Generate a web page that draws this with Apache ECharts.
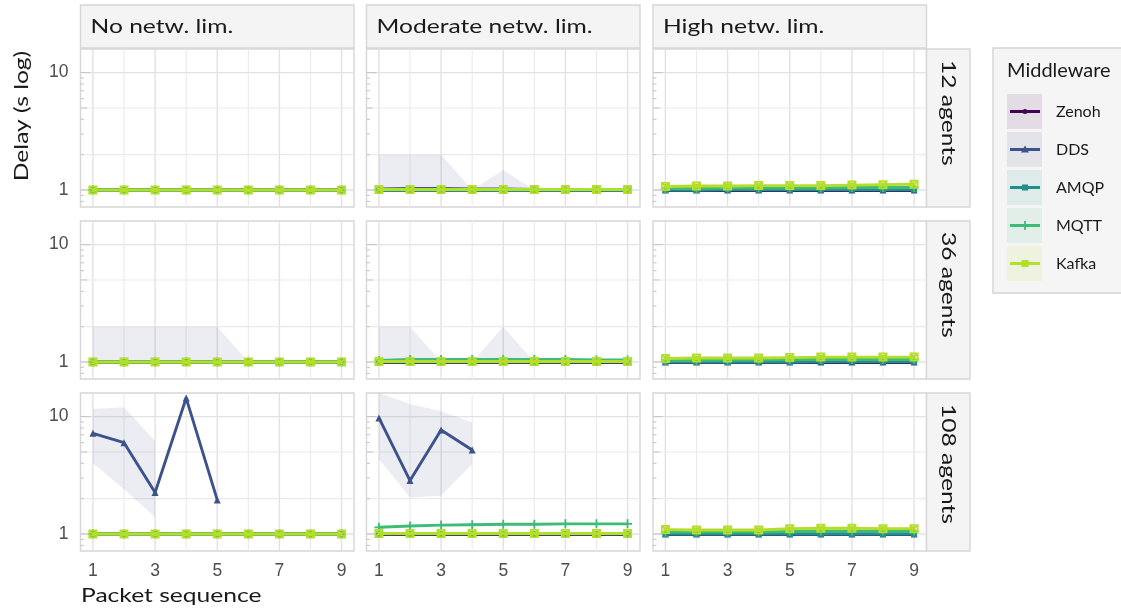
<!DOCTYPE html>
<html>
<head>
<meta charset="utf-8">
<script src="https://cdn.jsdelivr.net/npm/echarts@6/dist/echarts.min.js"></script>
<style>
  html, body { margin: 0; padding: 0; background: #ffffff; }
  #chart { width: 1121px; height: 612px; }
</style>
</head>
<body>
<div id="chart"></div>
<script>
// ---- data ---------------------------------------------------------------
const packets = [1, 2, 3, 4, 5, 6, 7, 8, 9];
const netLimits = ['No netw. lim.', 'Moderate netw. lim.', 'High netw. lim.'];
const agentRows = ['12 agents', '36 agents', '108 agents'];
const middlewares = ['Zenoh', 'DDS', 'AMQP', 'MQTT', 'Kafka'];
const xTickLabels = [1, 3, 5, 7, 9];
const yGridValues = [1, 2, 5, 10];
const logTickValues = [0.8, 0.9, 1, 2, 3, 4, 5, 6, 7, 8, 9, 10];

// mean delay (s) per packet; rows = no / moderate / high network limitation
const zenoh12 = [
  [1.00, 1.00, 1.00, 1.00, 1.00, 1.00, 1.00, 1.00, 1.00],
  [0.99, 0.99, 0.99, 0.99, 0.99, 0.99, 0.99, 0.99, 0.99],
  [0.99, 0.99, 0.99, 0.99, 0.99, 0.99, 0.99, 0.99, 0.99]
];
const dds12 = [
  [1.00, 1.00, 1.00, 1.00, 1.00, 1.00, 1.00, 1.00, 1.00],
  [1.02, 1.03, 1.03, 1.02, 1.02, 1.01, 1.01, 1.01, 1.01],
  [1.00, 1.00, 1.00, 1.00, 1.00, 1.00, 1.00, 1.00, 1.00]
];
const amqp12 = [
  [1.00, 1.00, 1.00, 1.00, 1.00, 1.00, 1.00, 1.00, 1.00],
  [0.99, 0.99, 0.99, 0.99, 0.99, 0.99, 0.99, 0.99, 0.99],
  [1.00, 1.00, 1.01, 1.01, 1.01, 1.01, 1.01, 1.01, 1.01]
];
const mqtt12 = [
  [1.00, 1.00, 1.00, 1.00, 1.00, 1.00, 1.00, 1.00, 1.00],
  [1.01, 1.01, 1.01, 1.01, 1.01, 1.01, 1.01, 1.01, 1.01],
  [1.03, 1.03, 1.04, 1.04, 1.04, 1.04, 1.05, 1.05, 1.05]
];
const kafka12 = [
  [1.00, 1.00, 1.00, 1.00, 1.00, 1.00, 1.00, 1.00, 1.00],
  [1.01, 1.01, 1.01, 1.01, 1.01, 1.01, 1.01, 1.01, 1.01],
  [1.07, 1.08, 1.08, 1.09, 1.09, 1.09, 1.10, 1.11, 1.12]
];

const zenoh36 = [
  [1.00, 1.00, 1.00, 1.00, 1.00, 1.00, 1.00, 1.00, 1.00],
  [0.99, 0.99, 0.99, 0.99, 0.99, 0.99, 0.99, 0.99, 0.99],
  [0.99, 0.99, 0.99, 0.99, 0.99, 0.99, 0.99, 0.99, 0.99]
];
const dds36 = [
  [1.00, 1.00, 1.00, 1.00, 1.00, 1.00, 1.00, 1.00, 1.00],
  [1.01, 1.01, 1.01, 1.01, 1.01, 1.01, 1.01, 1.01, 1.01],
  [1.00, 1.00, 1.00, 1.00, 1.00, 1.00, 1.00, 1.00, 1.00]
];
const amqp36 = [
  [1.00, 1.00, 1.00, 1.00, 1.00, 1.00, 1.00, 1.00, 1.00],
  [1.00, 1.00, 1.00, 1.00, 1.00, 1.00, 1.00, 1.00, 1.00],
  [1.00, 1.00, 1.00, 1.00, 1.00, 1.01, 1.01, 1.01, 1.01]
];
const mqtt36 = [
  [1.00, 1.00, 1.00, 1.00, 1.00, 1.00, 1.00, 1.00, 1.00],
  [1.03, 1.05, 1.05, 1.05, 1.05, 1.05, 1.05, 1.04, 1.04],
  [1.03, 1.03, 1.04, 1.04, 1.05, 1.05, 1.05, 1.05, 1.05]
];
const kafka36 = [
  [1.00, 1.00, 1.00, 1.00, 1.00, 1.00, 1.00, 1.00, 1.00],
  [1.01, 1.01, 1.01, 1.01, 1.01, 1.01, 1.01, 1.01, 1.01],
  [1.07, 1.08, 1.08, 1.08, 1.09, 1.10, 1.10, 1.10, 1.10]
];

const zenoh108 = [
  [1.00, 1.00, 1.00, 1.00, 1.00, 1.00, 1.00, 1.00, 1.00],
  [0.99, 0.99, 0.99, 0.99, 0.99, 0.99, 0.99, 0.99, 0.99],
  [0.99, 0.99, 0.99, 0.99, 0.99, 0.99, 0.99, 0.99, 0.99]
];
const dds108 = [
  [7.2, 6.0, 2.26, 14.4, 1.95, null, null, null, null],
  [9.75, 2.85, 7.7, 5.2, null, null, null, null, null],
  [1.00, 1.00, 1.00, 1.00, 1.00, 1.00, 1.00, 1.00, 1.00]
];
const amqp108 = [
  [1.00, 1.00, 1.00, 1.00, 1.00, 1.00, 1.00, 1.00, 1.00],
  [1.00, 1.00, 1.00, 1.00, 1.00, 1.00, 1.00, 1.00, 1.00],
  [1.00, 1.00, 1.00, 1.00, 1.00, 1.00, 1.00, 1.00, 1.00]
];
const mqtt108 = [
  [1.00, 1.00, 1.00, 1.00, 1.00, 1.00, 1.00, 1.00, 1.00],
  [1.14, 1.17, 1.19, 1.20, 1.21, 1.21, 1.22, 1.22, 1.22],
  [1.04, 1.04, 1.04, 1.04, 1.05, 1.06, 1.06, 1.06, 1.06]
];
const kafka108 = [
  [1.00, 1.00, 1.00, 1.00, 1.00, 1.00, 1.00, 1.00, 1.00],
  [1.01, 1.01, 1.01, 1.01, 1.01, 1.01, 1.01, 1.01, 1.01],
  [1.09, 1.08, 1.08, 1.08, 1.11, 1.12, 1.12, 1.11, 1.11]
];

// DDS delay spread (lower / upper bound); null where there is no spread
const ddsLow12 = [null, [1, 1, 1, 1, 1, 1, 1, 1, 1], null];
const ddsHigh12 = [null, [2, 2, 2, 1, 1.48, 1, 1, 1, 1], null];
const ddsLow36 = [[1, 1, 1, 1, 1, 1, 1, 1, 1], [1, 1, 1, 1, 1, 1, 1, 1, 1], null];
const ddsHigh36 = [[2, 2, 2, 2, 2, 1, 1, 1, 1], [2, 2, 1, 1, 2, 1, 1, 1, 1], null];
const ddsLow108 = [
  [4.0, 2.4, 1.39, null, null, null, null, null, null],
  [4.36, 2.05, 2.12, 3.95, null, null, null, null, null],
  null
];
const ddsHigh108 = [
  [11.6, 12.0, 6.2, null, null, null, null, null, null],
  [15.9, 12.8, 11.1, 8.9, null, null, null, null, null],
  null
];

// ---- lookup tables built from the arrays above --------------------------
const delays = [
  [zenoh12, dds12, amqp12, mqtt12, kafka12],
  [zenoh36, dds36, amqp36, mqtt36, kafka36],
  [zenoh108, dds108, amqp108, mqtt108, kafka108]
];
const ddsLow = [ddsLow12, ddsLow36, ddsLow108];
const ddsHigh = [ddsHigh12, ddsHigh36, ddsHigh108];

// ---- styling ------------------------------------------------------------
const colors = ['#440154', '#3B528B', '#21908C', '#3CBC75', '#B5DE2B'];
const symbols = [
  'circle',
  'triangle',
  'rect',
  'path://M-1,-5H1V-1H5V1H1V5H-1V1H-5V-1H-1Z',
  'path://M0,0H10V10H0Z M0,0L10,10 M10,0L0,10'
];
const symbolSizes = [5, 7, 6, 9, 7.5];

const colLeft = [80.5, 366.5, 653];
const panelW = 273.5;
const rowTop = [49, 221, 393];
const panelH = 158;
const yMin = 0.716, yMax = 15.9;
const xMin = 0.6, xMax = 9.4;
const titleFont = '20px Lato';
const titleStretch = 1.23;

function rgba(hex, a) {
  const n = parseInt(hex.slice(1), 16);
  return 'rgba(' + (n >> 16 & 255) + ',' + (n >> 8 & 255) + ',' + (n & 255) + ',' + a + ')';
}

const grids = [], xAxes = [], yAxes = [], series = [], graphics = [];

function gridlineSeries(gi) {
  const items = [];
  packets.forEach(x => items.push([x, 1, x % 2 === 1 ? 0 : 1]));
  yGridValues.forEach(y => items.push([1, y, (y === 1 || y === 10) ? 2 : 3]));
  return {
    type: 'custom', xAxisIndex: gi, yAxisIndex: gi, z: 1, silent: true, clip: true,
    data: items, encode: { x: 0, y: 1 },
    renderItem(params, api) {
      const cs = params.coordSys;
      const kind = api.value(2);
      const p = api.coord([api.value(0), api.value(1)]);
      const style = { stroke: kind % 2 === 0 ? '#e2e2e2' : '#eaeaea', lineWidth: kind % 2 === 0 ? 1.4 : 1.1 };
      if (kind < 2) {
        return { type: 'line', shape: { x1: p[0], y1: cs.y, x2: p[0], y2: cs.y + cs.height }, style };
      }
      return { type: 'line', shape: { x1: cs.x, y1: p[1], x2: cs.x + cs.width, y2: p[1] }, style };
    }
  };
}

function logTickSeries(gi) {
  return {
    type: 'custom', xAxisIndex: gi, yAxisIndex: gi, z: 2, silent: true, clip: true,
    data: logTickValues.map(v => [1, v]), encode: { x: 0, y: 1 },
    renderItem(params, api) {
      const cs = params.coordSys;
      const v = api.value(1);
      const p = api.coord([1, v]);
      const lead = Math.round(v / Math.pow(10, Math.floor(Math.log10(v) + 1e-9)));
      const len = lead === 1 ? 10 : (lead === 5 ? 6.5 : 3.5);
      return { type: 'line', shape: { x1: cs.x, y1: p[1], x2: cs.x + len, y2: p[1] },
        style: { stroke: '#c4c4c4', lineWidth: 1 } };
    }
  };
}

function ribbonSeries(gi, lo, hi, color) {
  return {
    type: 'custom', xAxisIndex: gi, yAxisIndex: gi, z: 3, silent: true, clip: true,
    data: packets.map((x, i) => [x, lo[i], hi[i]]), encode: { x: 0, y: [1, 2] },
    renderItem(params, api) {
      if (params.dataIndexInside !== 0) return null;
      const n = params.dataInsideLength;
      const runs = [];
      let cur = [];
      for (let j = 0; j < n; j++) {
        const x = api.value(0, j), l = api.value(1, j), h = api.value(2, j);
        if (isFinite(l) && isFinite(h) && l > 0 && h > 0) {
          cur.push([x, l, h]);
        } else {
          if (cur.length > 1) runs.push(cur);
          cur = [];
        }
      }
      if (cur.length > 1) runs.push(cur);
      return {
        type: 'group',
        children: runs.map(run => ({
          type: 'polygon',
          shape: {
            points: run.map(d => api.coord([d[0], d[2]]))
              .concat(run.slice().reverse().map(d => api.coord([d[0], d[1]])))
          },
          style: { fill: rgba(color, 0.1) }
        }))
      };
    }
  };
}

for (let r = 0; r < 3; r++) {
  for (let c = 0; c < 3; c++) {
    const gi = r * 3 + c;
    grids.push({
      left: colLeft[c], top: rowTop[r], width: panelW, height: panelH,
      show: true, backgroundColor: '#ffffff', borderColor: '#d6d6d6', borderWidth: 1.4
    });
    xAxes.push({
      type: 'value', gridIndex: gi, min: xMin, max: xMax,
      axisLine: { show: false }, axisTick: { show: false }, splitLine: { show: false },
      axisLabel: {
        show: r === 2, customValues: xTickLabels, margin: 11,
        fontFamily: 'Liberation Sans', fontSize: 17.5, color: '#4d4d4d'
      }
    });
    yAxes.push({
      type: 'log', logBase: 10, gridIndex: gi, min: yMin, max: yMax,
      axisLine: { show: false }, axisTick: { show: false }, splitLine: { show: false },
      minorTick: { show: false }, minorSplitLine: { show: false },
      axisLabel: {
        show: c === 0, margin: 12, showMinLabel: false, showMaxLabel: false,
        fontFamily: 'Liberation Sans', fontSize: 17.5, color: '#4d4d4d'
      }
    });

    series.push(gridlineSeries(gi));
    series.push(logTickSeries(gi));
    if (ddsLow[r][c] && ddsHigh[r][c]) {
      series.push(ribbonSeries(gi, ddsLow[r][c], ddsHigh[r][c], colors[1]));
    }
    middlewares.forEach((name, m) => {
      const vals = delays[r][m][c];
      const hollow = m === 4;
      series.push({
        type: 'line', name, xAxisIndex: gi, yAxisIndex: gi, z: 4 + m,
        silent: true, clip: true, connectNulls: false,
        data: packets.map((x, i) => [x, vals[i]]),
        symbol: symbols[m], symbolSize: symbolSizes[m], symbolKeepAspect: true, showSymbol: true,
        lineStyle: { color: colors[m], width: 2.9 },
        itemStyle: hollow
          ? { color: rgba(colors[m], 0.45), borderColor: colors[m], borderWidth: 1.5 }
          : { color: colors[m], borderWidth: 0 }
      });
    });
  }
}

// ---- facet strips ------------------------------------------------------
netLimits.forEach((label, c) => {
  graphics.push({
    type: 'rect', silent: true,
    shape: { x: colLeft[c], y: 5, width: panelW, height: 43 },
    style: { fill: '#f4f4f4', stroke: '#d6d6d6', lineWidth: 1.4 }
  });
  graphics.push({
    type: 'text', silent: true, x: colLeft[c] + 10, y: 27, scaleX: titleStretch,
    style: { text: label, font: titleFont, fill: '#1a1a1a', align: 'left', verticalAlign: 'middle' }
  });
});
agentRows.forEach((label, r) => {
  const sx = colLeft[2] + panelW;
  graphics.push({
    type: 'rect', silent: true,
    shape: { x: sx, y: rowTop[r], width: 43.5, height: panelH },
    style: { fill: '#f4f4f4', stroke: '#d6d6d6', lineWidth: 1.4 }
  });
  graphics.push({
    type: 'text', silent: true, x: sx + 22, y: rowTop[r] + 11, rotation: -Math.PI / 2, scaleX: titleStretch,
    style: { text: label, font: titleFont, fill: '#1a1a1a', align: 'left', verticalAlign: 'middle' }
  });
});

// ---- axis titles ---------------------------------------------------------
graphics.push({
  type: 'text', silent: true, x: 22, y: 116, rotation: Math.PI / 2, scaleX: titleStretch,
  style: { text: 'Delay (s log)', font: titleFont, fill: '#1a1a1a', align: 'center', verticalAlign: 'middle' }
});
graphics.push({
  type: 'text', silent: true, x: 81, y: 596, scaleX: titleStretch,
  style: { text: 'Packet sequence', font: titleFont, fill: '#1a1a1a', align: 'left', verticalAlign: 'middle' }
});

// ---- legend --------------------------------------------------------------
graphics.push({
  type: 'rect', silent: true,
  shape: { x: 993, y: 48, width: 140, height: 245 },
  style: { fill: '#f5f5f5', stroke: '#d4d4d4', lineWidth: 1.4 }
});
graphics.push({
  type: 'text', silent: true, x: 1007, y: 71, scaleX: 1.08,
  style: { text: 'Middleware', font: '18.5px Lato', fill: '#1a1a1a', align: 'left', verticalAlign: 'middle' }
});
middlewares.forEach((name, m) => {
  const cy = 111.5 + 38 * m;
  const cx = 1025;
  const col = colors[m];
  graphics.push({
    type: 'rect', silent: true,
    shape: { x: 1007, y: cy - 17.5, width: 35, height: 35 },
    style: { fill: rgba(col, 0.1) }
  });
  graphics.push({
    type: 'line', silent: true,
    shape: { x1: 1010, y1: cy, x2: 1040, y2: cy },
    style: { stroke: col, lineWidth: 3 }
  });
  let marker;
  if (m === 0) {
    marker = { type: 'circle', shape: { cx, cy, r: 2.5 }, style: { fill: col } };
  } else if (m === 1) {
    marker = { type: 'polygon', shape: { points: [[cx, cy - 4], [cx + 4, cy + 3], [cx - 4, cy + 3]] }, style: { fill: col } };
  } else if (m === 2) {
    marker = { type: 'rect', shape: { x: cx - 3, y: cy - 3, width: 6, height: 6 }, style: { fill: col } };
  } else if (m === 3) {
    marker = { type: 'group', children: [
      { type: 'rect', shape: { x: cx - 0.9, y: cy - 4.5, width: 1.8, height: 9 }, style: { fill: col } },
      { type: 'rect', shape: { x: cx - 4.5, y: cy - 0.9, width: 9, height: 1.8 }, style: { fill: col } }
    ] };
  } else {
    marker = { type: 'rect', shape: { x: cx - 3.5, y: cy - 3.5, width: 7, height: 7 }, style: { fill: col } };
  }
  marker.silent = true;
  graphics.push(marker);
  graphics.push({
    type: 'text', silent: true, x: 1056, y: cy,
    style: { text: name, font: '16px Lato', fill: '#1a1a1a', align: 'left', verticalAlign: 'middle' }
  });
});

const chart = echarts.init(document.getElementById('chart'), null, { renderer: 'canvas' });
chart.setOption({
  backgroundColor: '#ffffff',
  animation: false,
  grid: grids,
  xAxis: xAxes,
  yAxis: yAxes,
  series: series,
  graphic: { elements: graphics }
});
</script>
</body>
</html>
